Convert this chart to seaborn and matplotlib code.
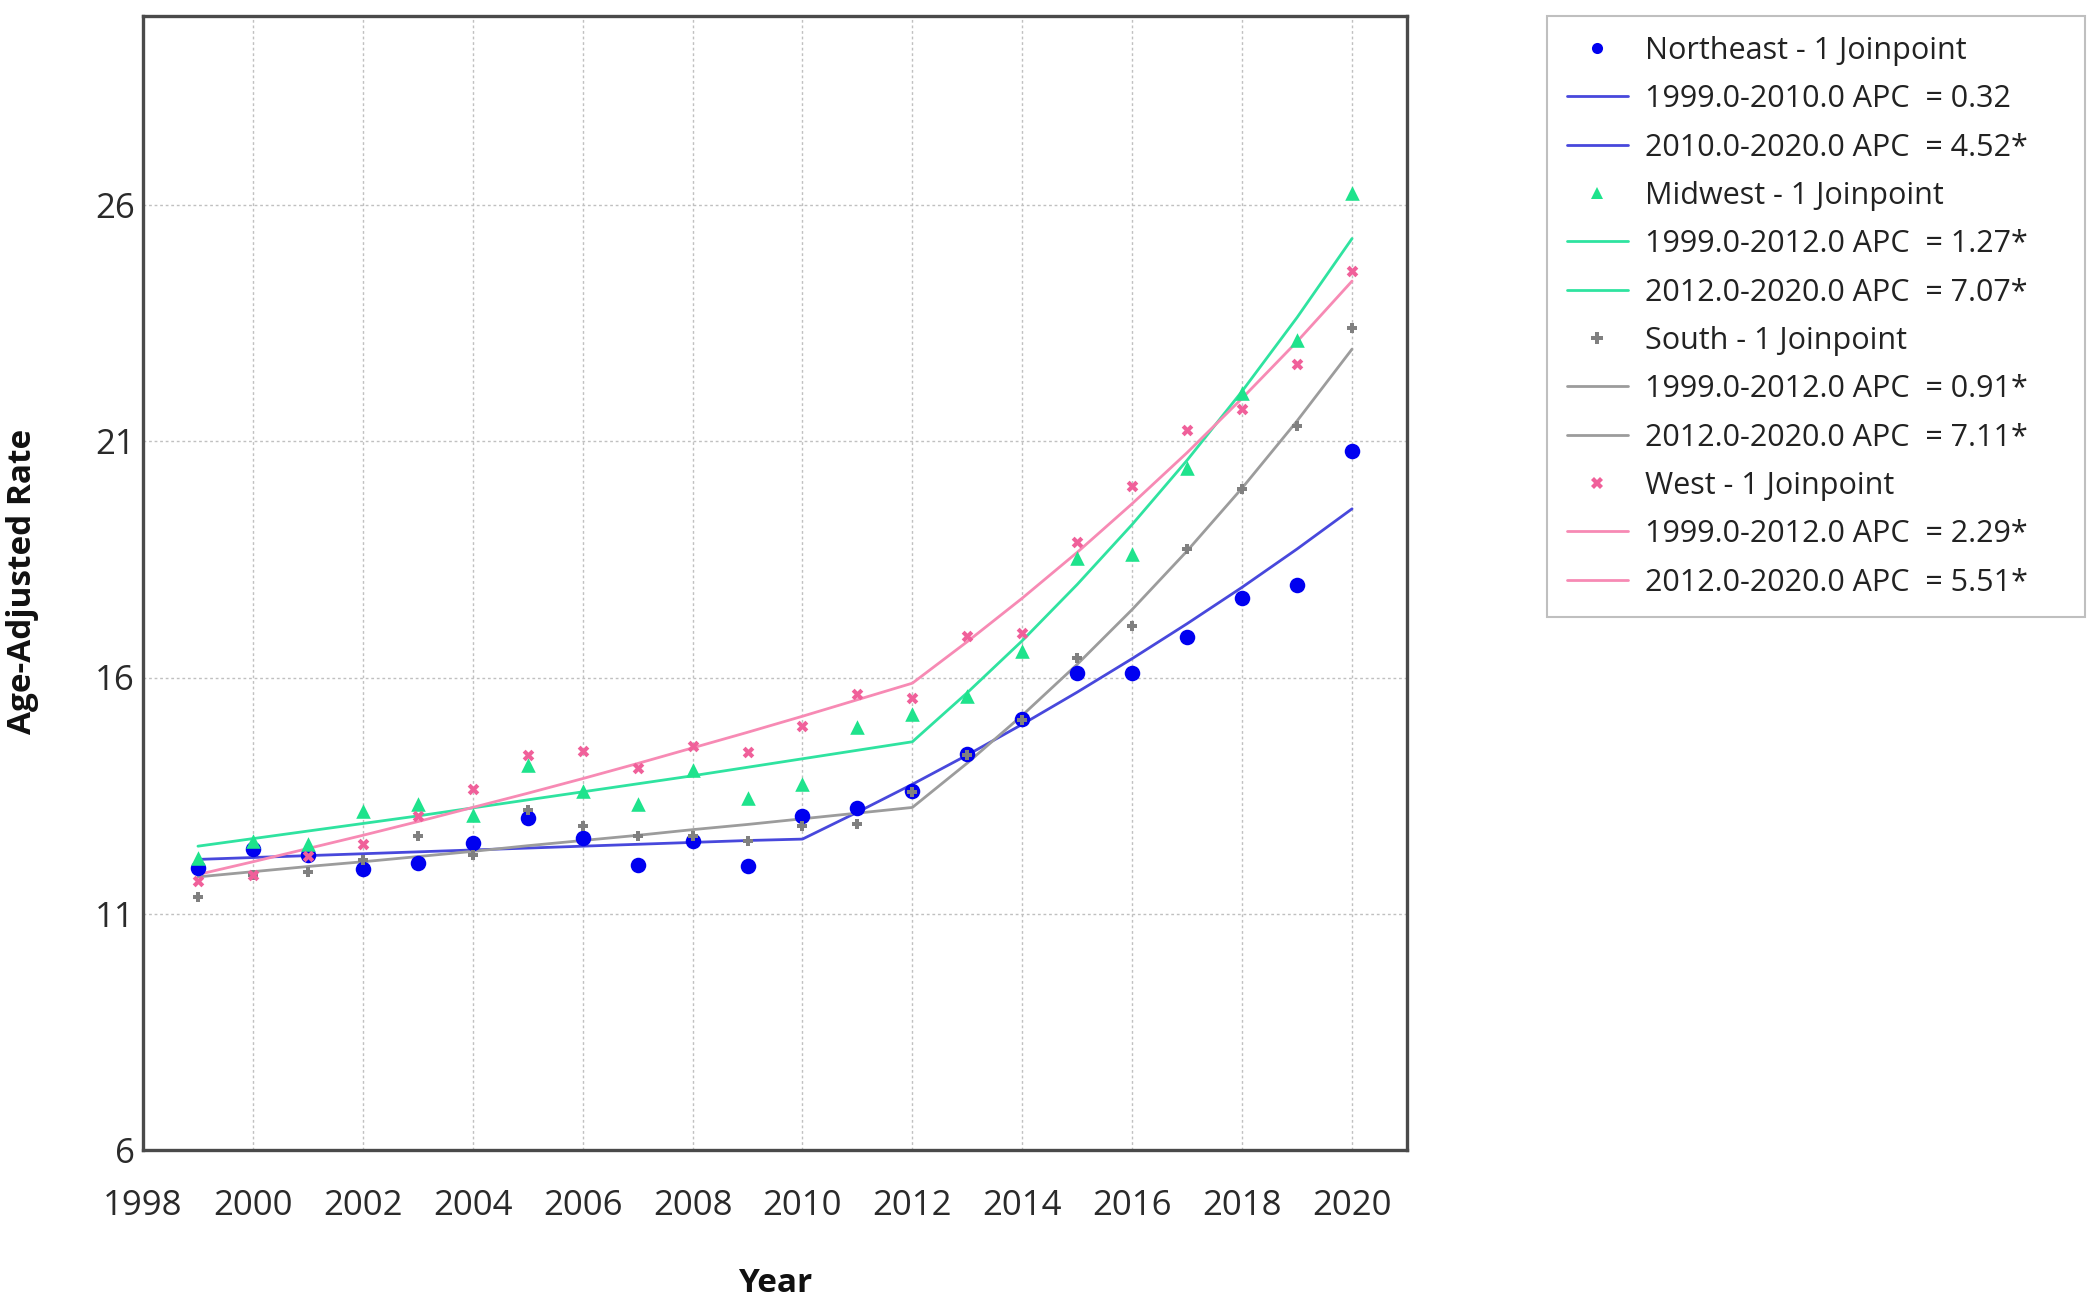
import seaborn as sns
import matplotlib.pyplot as plt
import pandas as pd
from matplotlib.lines import Line2D

years = list(range(1999, 2021))

# observed age-adjusted rates
northeast = [11.97, 12.38, 12.24, 11.95, 12.07, 12.50, 13.03, 12.60, 12.04, 12.53, 12.02,
             13.06, 13.23, 13.60, 14.38, 15.12, 16.09, 16.10, 16.86, 17.68, 17.96, 20.79]
midwest = [12.19, 12.53, 12.48, 13.18, 13.33, 13.10, 14.14, 13.59, 13.32, 14.05, 13.44,
           13.74, 14.96, 15.22, 15.61, 16.57, 18.52, 18.62, 20.43, 22.02, 23.14, 26.25]
south = [11.36, 11.83, 11.88, 12.13, 12.65, 12.25, 13.20, 12.85, 12.64, 12.64, 12.55,
         12.85, 12.91, 13.58, 14.36, 15.10, 16.42, 17.10, 18.71, 19.98, 21.32, 23.40]
west = [11.69, 11.81, 12.22, 12.48, 13.06, 13.63, 14.35, 14.44, 14.08, 14.56, 14.42,
        14.97, 15.66, 15.57, 16.88, 16.95, 18.87, 20.05, 21.23, 21.68, 22.64, 24.61]

# joinpoint model fits
northeast_fit = [12.15, 12.19, 12.23, 12.27, 12.31, 12.35, 12.39, 12.43, 12.47, 12.51, 12.55,
                 12.58, 13.15, 13.74, 14.36, 15.01, 15.69, 16.40, 17.14, 17.91, 18.72, 19.57]
midwest_fit = [12.43, 12.59, 12.75, 12.91, 13.07, 13.24, 13.41, 13.58, 13.75, 13.92, 14.10,
               14.28, 14.46, 14.64, 15.68, 16.78, 17.97, 19.24, 20.60, 22.06, 23.62, 25.29]
south_fit = [11.78, 11.89, 12.00, 12.10, 12.21, 12.32, 12.44, 12.55, 12.66, 12.78, 12.89,
             13.01, 13.13, 13.25, 14.19, 15.20, 16.28, 17.44, 18.68, 20.01, 21.43, 22.95]
west_fit = [11.83, 12.10, 12.38, 12.66, 12.95, 13.25, 13.55, 13.86, 14.18, 14.51, 14.84,
            15.18, 15.53, 15.88, 16.76, 17.68, 18.65, 19.68, 20.76, 21.91, 23.11, 24.39]

regions = ["Northeast", "Midwest", "South", "West"]
segments = {
    "Northeast": ["1999.0-2010.0 APC  = 0.32", "2010.0-2020.0 APC  = 4.52*"],
    "Midwest": ["1999.0-2012.0 APC  = 1.27*", "2012.0-2020.0 APC  = 7.07*"],
    "South": ["1999.0-2012.0 APC  = 0.91*", "2012.0-2020.0 APC  = 7.11*"],
    "West": ["1999.0-2012.0 APC  = 2.29*", "2012.0-2020.0 APC  = 5.51*"],
}

obs = {"Northeast": northeast, "Midwest": midwest, "South": south, "West": west}
fits = {"Northeast": northeast_fit, "Midwest": midwest_fit, "South": south_fit, "West": west_fit}

marker_col = {"Northeast": "#0000f0", "Midwest": "#1ee38c", "South": "#808080", "West": "#f0609a"}
line_col = {"Northeast": "#4848dc", "Midwest": "#2fe3a0", "South": "#9c9c9c", "West": "#f78ab4"}
markers = {"Northeast": "o", "Midwest": "^", "South": "P", "West": "X"}
msize = {"Northeast": 125, "Midwest": 110, "South": 55, "West": 70}

sns.set_style("white")
plt.rcParams['font.family'] = ['Open Sans', 'DejaVu Sans']

fig = plt.figure(figsize=(21, 13.09), dpi=100)
ax = fig.add_axes([143 / 2100, 1 - 1150 / 1309, (1407 - 143) / 2100, (1150 - 16) / 1309])

for r in regions:
    df = pd.DataFrame({"year": years, "rate": obs[r], "fit": fits[r]})
    sns.lineplot(data=df, x="year", y="fit", color=line_col[r], linewidth=2.0, ax=ax, zorder=2)
    sns.scatterplot(data=df, x="year", y="rate", color=marker_col[r], marker=markers[r],
                    s=msize[r], linewidth=0, ax=ax, zorder=3)

ax.set_xlim(1998, 2021)
ax.set_ylim(6, 30)
ax.set_xticks(range(1998, 2021, 2))
ax.set_yticks([6, 11, 16, 21, 26])
ax.grid(True, color="#c0c0c0", linestyle=(0, (2, 2)), linewidth=1.0)
ax.tick_params(axis="both", length=0, labelsize=25, colors="#2a2a2a")
ax.tick_params(axis="x", pad=28)
ax.tick_params(axis="y", pad=6)
for sp in ax.spines.values():
    sp.set_visible(True)
    sp.set_color("#4a4a4a")
    sp.set_linewidth(2.4)

ax.set_xlabel("")
ax.set_ylabel("")
fig.text(775 / 2100, 1 - 1283 / 1309, "Year", ha="center", va="center",
         fontsize=24, fontweight="bold", color="#111111")
fig.text(23 / 2100, 1 - 581 / 1309, "Age-Adjusted Rate", ha="center", va="center",
         rotation=90, fontsize=24, fontweight="bold", color="#111111")

handles = []
labels = []
for r in regions:
    handles.append(Line2D([], [], linestyle="none", marker=markers[r], color=marker_col[r],
                          markersize=8, markeredgewidth=0))
    labels.append(f"{r} - 1 Joinpoint")
    for seg in segments[r]:
        handles.append(Line2D([], [], color=line_col[r], linewidth=2))
        labels.append(seg)

leg = fig.legend(handles, labels, loc="upper left",
                 bbox_to_anchor=(1547 / 2100, 1 - 16 / 1309, (2085 - 1547) / 2100, 0),
                 mode="expand", fontsize=22, frameon=True, fancybox=False, handlelength=2.0,
                 handletextpad=0.55, labelspacing=0.6, borderpad=0.65, borderaxespad=0)
leg.get_frame().set_edgecolor("#b0b0b0")
leg.get_frame().set_linewidth(1.5)
for t in leg.get_texts():
    t.set_color("#222222")

fig.savefig("out.png", dpi=100)
